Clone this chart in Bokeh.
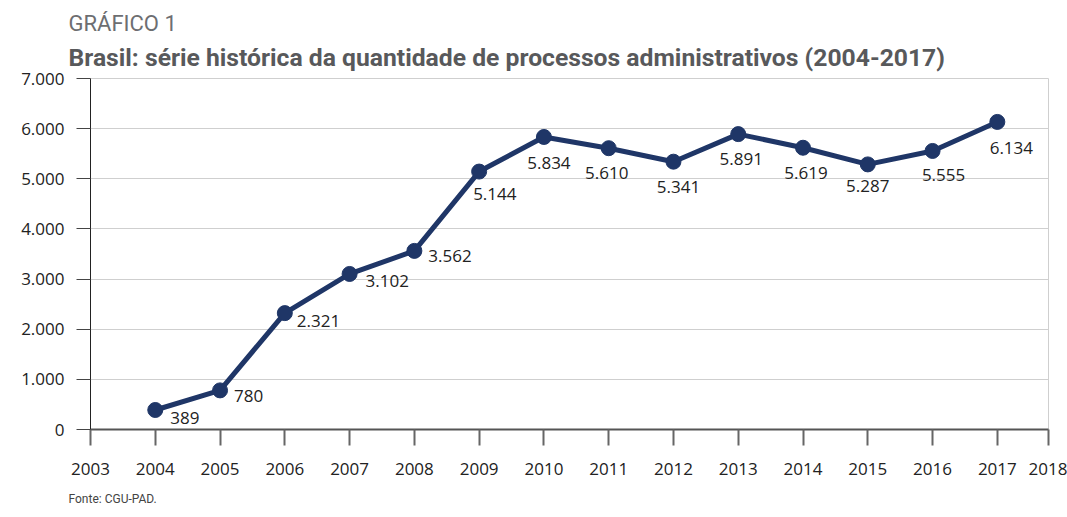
from bokeh.plotting import figure
from bokeh.models import ColumnDataSource, FixedTicker, Title, Range1d
from bokeh.embed import file_html
from bokeh.resources import INLINE
from bokeh.core.properties import value

# ---- data ----
years = [2004, 2005, 2006, 2007, 2008, 2009, 2010, 2011, 2012, 2013, 2014, 2015, 2016, 2017]
counts = [389, 780, 2321, 3102, 3562, 5144, 5834, 5610, 5341, 5891, 5619, 5287, 5555, 6134]
x_tick_years = [2003, 2004, 2005, 2006, 2007, 2008, 2009, 2010, 2011, 2012, 2013, 2014, 2015, 2016, 2017]
x_last_label = "2018"
y_ticks = [0, 1000, 2000, 3000, 4000, 5000, 6000, 7000]

kicker = "GRÁFICO 1"
title_text = "Brasil: série histórica da quantidade de processos administrativos (2004-2017)"
source_text = "Fonte: CGU-PAD."

# ---- label placement (style, screen px) ----
label_dx = [15, 14, 12, 16, 14, -6, 5, -2, 5, 3, 3, 0, 11, 14]
label_dy = [8, 6, 8, 7, 5, 22, 26, 25, 25, 25, 25, 22, 24, 26]
label_align = ["left"] * 6 + ["center"] * 8

fmt = lambda v: f"{v:,}".replace(",", ".")

X_END = 2017.79
NAVY = "#1f3667"
FONT = "Open Sans"
TFONT = "Roboto"

p = figure(width=1067, height=517, output_backend="svg", toolbar_location=None,
           x_range=Range1d(2003, X_END), y_range=Range1d(0, 7000),
           min_border_left=90, min_border_right=19, min_border_top=78, min_border_bottom=88)
p.title.visible = False

p.add_layout(Title(text=title_text, text_font=TFONT, text_font_style="bold",
                   text_font_size="24.7px", text_color="#58595b", align="left",
                   offset=-22, standoff=14), "above")
p.add_layout(Title(text=kicker, text_font=TFONT, text_font_style="normal",
                   text_font_size="22px", text_color="#6d6e71", align="left",
                   offset=-22, standoff=-4), "above")

# axes
p.xaxis.ticker = FixedTicker(ticks=x_tick_years + [X_END])
p.xaxis.major_label_overrides = {**{y: str(y) for y in x_tick_years}, X_END: x_last_label}
p.xaxis.axis_line_color = "#555555"
p.xaxis.axis_line_width = 2
p.xaxis.major_tick_line_color = "#666666"
p.xaxis.major_tick_line_width = 2
p.xaxis.major_tick_out = 16
p.xaxis.major_tick_in = 0
p.xaxis.minor_tick_line_color = None
p.xaxis.major_label_standoff = 17
p.xaxis.major_label_text_font = FONT
p.xaxis.major_label_text_font_size = "17px"
p.xaxis.major_label_text_color = "#222222"

p.yaxis.ticker = FixedTicker(ticks=y_ticks)
p.yaxis.major_label_overrides = {v: fmt(v) for v in y_ticks}
p.yaxis.axis_line_color = "#222222"
p.yaxis.axis_line_width = 1
p.yaxis.major_tick_line_color = "#444444"
p.yaxis.major_tick_out = 14
p.yaxis.major_tick_in = 0
p.yaxis.minor_tick_line_color = None
p.yaxis.major_label_standoff = 12
p.yaxis.major_label_text_font = FONT
p.yaxis.major_label_text_font_size = "17px"
p.yaxis.major_label_text_color = "#222222"

p.xgrid.grid_line_color = None
p.ygrid.ticker = FixedTicker(ticks=y_ticks)
p.ygrid.grid_line_color = "#cfcfcf"
p.ygrid.grid_line_width = 1
p.outline_line_color = "#cfcfcf"

p.add_layout(Title(text=source_text, text_font=TFONT, text_font_style="normal",
                   text_font_size="12px", text_color="#444444", align="left",
                   offset=-22, standoff=24), "below")

src = ColumnDataSource(dict(x=years, y=counts))
p.line("x", "y", source=src, line_color=NAVY, line_width=5)
p.scatter("x", "y", source=src, size=15, fill_color=NAVY, line_color=NAVY)

for al in ["left", "center"]:
    idx = [i for i, a in enumerate(label_align) if a == al]
    s = ColumnDataSource(dict(x=[years[i] for i in idx], y=[counts[i] for i in idx],
                              label=[fmt(counts[i]) for i in idx],
                              dx=[label_dx[i] for i in idx], dy=[label_dy[i] for i in idx]))
    p.text("x", "y", text="label", source=s, x_offset="dx", y_offset="dy",
           text_align=al, text_baseline="middle", text_font=value(FONT),
           text_font_size="17px", text_color="#222222")

open("out.html", "w").write(file_html(p, INLINE))
